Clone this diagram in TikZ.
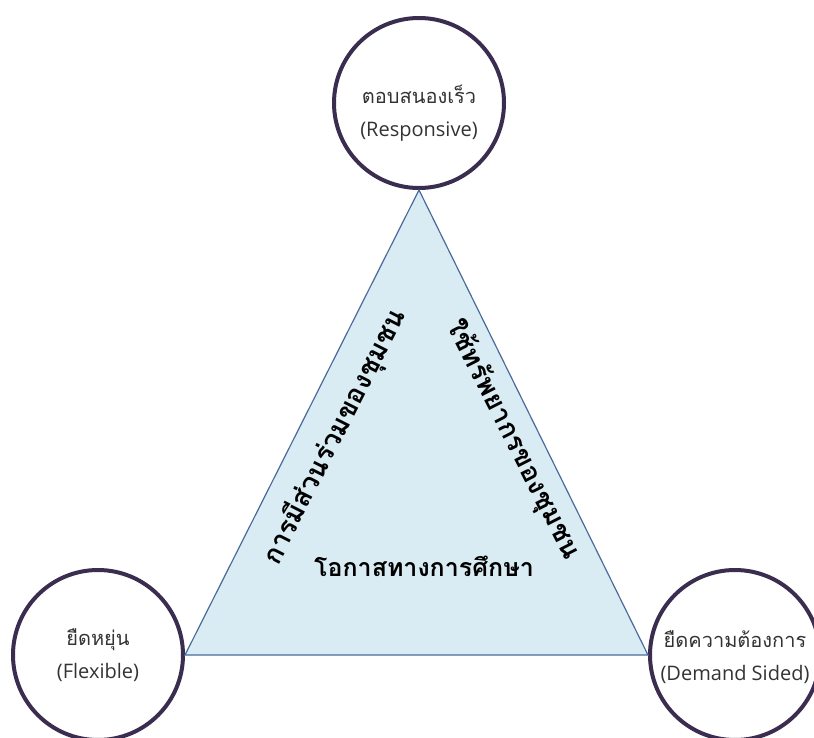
\documentclass[tikz,border=0pt]{standalone}
\usepackage{fontspec}
\setmainfont{Open Sans}
\newfontfamily\thaifont[Script=Thai]{Loma}
\definecolor{ringcol}{HTML}{3B2D4F}
\definecolor{trifill}{HTML}{DAECF3}
\definecolor{triline}{HTML}{4A6A9C}
\definecolor{txtcol}{HTML}{333333}

\begin{document}
\begin{tikzpicture}[x=0.5pt,y=-0.5pt,
  ring/.style={circle,draw=ringcol,line width=2pt,minimum size=85pt,inner sep=0pt},
  ringtext/.style={align=center,text=txtcol,font=\fontsize{10}{16.5}\selectfont},
  side/.style={font=\thaifont\bfseries\fontsize{13.5}{16}\selectfont}]

\useasboundingbox (0,0) rectangle (814,738);

% the three corner circles
\node (resp) [ring] at (419,103) {};
\node (flex) [ring] at (98,655) {};
\node (demand) [ring] at (735,655) {};

\node (resptext) [ringtext] at ([yshift=-5pt]resp.center) {{\thaifont ตอบสนองเร็ว}\\(Responsive)};
\node (flextext) [ringtext] at (flex.center) {{\thaifont ยืดหยุ่น}\\(Flexible)};
\node (demandtext) [ringtext] at ([yshift=-1pt]demand.center) {{\thaifont ยืดความต้องการ}\\(Demand Sided)};

\draw [fill=trifill,draw=triline,line width=0.6pt]
    (resp.south) -- (flex.east) -- (demand.west) -- cycle;

% texts inside the triangle
\node (partic) [side,rotate=63] at (335,437) {การมีส่วนร่วมของชุมชน};
\node (resource) [side,rotate=-63] at (513,440) {ใช้ทรัพยากรของชุมชน};
\node (chance) [side,font=\thaifont\bfseries\fontsize{12.5}{15}\selectfont] at (424,566) {โอกาสทางการศึกษา};

\end{tikzpicture}
\end{document}
